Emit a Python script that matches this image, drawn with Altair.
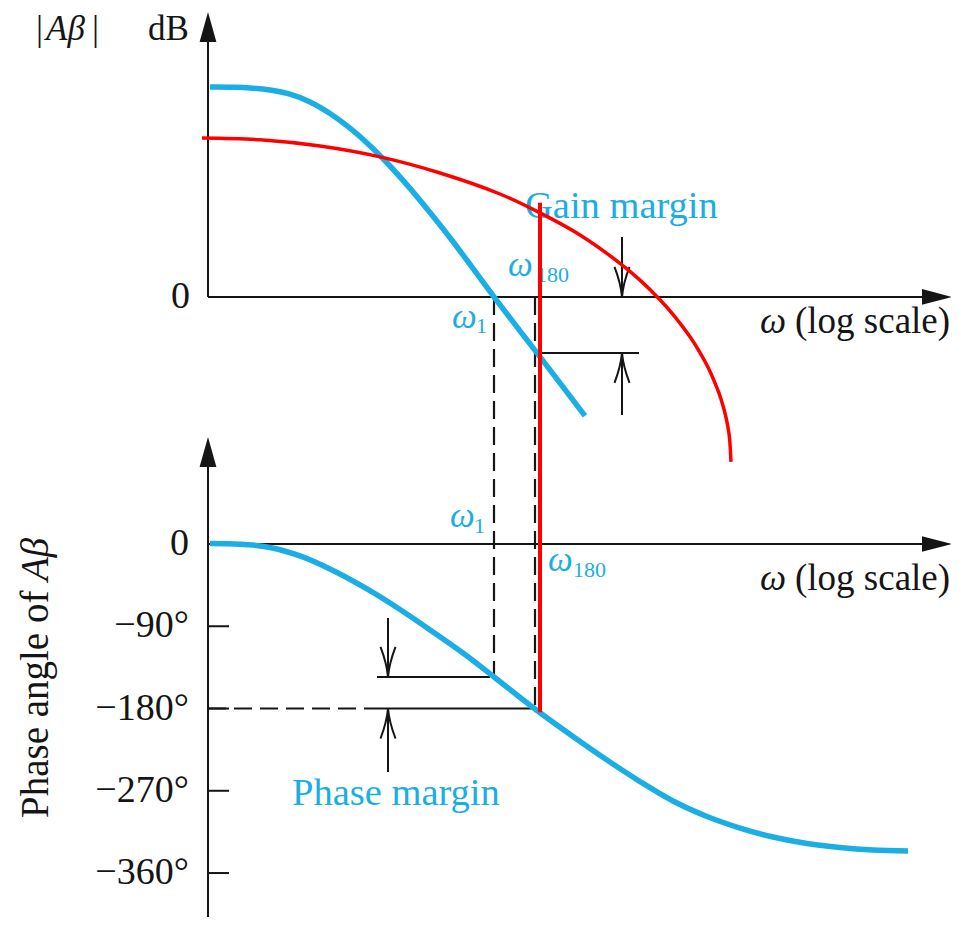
import altair as alt
import pandas as pd

BLUE = "#1aaee5"
RED = "#ff0000"
INK = "#151515"
FONT = "Liberation Serif"

# ---------------- data ----------------
# horizontal position: log10(omega), in decades measured from the vertical axes
# upper panel: |A beta| in dB ; lower panel: phase of A beta in degrees
mag_logw = [0.02, 0.22, 0.42, 0.62, 0.82, 1.02, 1.22, 1.42, 1.62, 1.82, 2.02, 2.22, 2.42, 2.62,
            2.86, 3.29, 3.77]
mag_db = [60.0, 59.9, 59.7, 59.1, 57.9, 55.7, 52.4, 48.2, 43.2, 37.4, 31.0, 24.1, 16.9, 9.3,
          0.0, -16.0, -34.0]

red_logw = [-0.06, 0.52, 1.12, 1.72, 2.32, 2.92, 3.32, 3.72, 4.12, 4.32, 4.52, 4.67, 4.82, 4.92,
            5.00, 5.06, 5.11, 5.15, 5.18, 5.20, 5.215, 5.23]
red_db = [45.4, 44.9, 43.1, 40.0, 35.4, 29.4, 24.0, 17.7, 9.6, 4.8, -0.8, -5.7, -11.4, -15.9,
          -20.1, -23.9, -27.5, -31.1, -34.4, -37.3, -40.2, -47.1]

phase_logw = [0.02, 0.32, 0.62, 0.92, 1.25, 1.59, 1.92, 2.25, 2.59, 2.86, 3.27, 3.65, 3.99,
              4.32, 4.65, 4.99, 5.32, 5.65, 5.99, 6.32, 6.65, 7.00]
phase_deg = [0.5, -0.2, -3.8, -13.1, -29.0, -49.2, -71.7, -96.3, -122.6, -145.5, -180.5, -210.6,
             -236.4, -259.9, -281.2, -298.2, -310.8, -320.6, -327.7, -332.1, -334.8, -335.9]

w_1 = 2.86            # omega_1  (|A beta| = 0 dB)
w_180 = 3.27          # omega_180 (phase = -180 deg)
gain_at_w180 = -16.0  # dB
phase_at_w1 = -145.5  # deg
red_w = 3.32
red_top_db = 26.9
red_bottom_deg = -184.0

tick_deg = [-90, -180, -270, -360]
tick_text = ["\u221290\u00b0", "\u2212180\u00b0", "\u2212270\u00b0", "\u2212360\u00b0"]

# segments: (w start, value start, unit, w end, value end, unit)
solid_segments = [
    (0.0, 0.0, "db", 0.0, 78.0, "db"),
    (0.0, 0.0, "db", 7.40, 0.0, "db"),
    (0.0, 112.0, "deg", 0.0, -408.0, "deg"),
    (0.0, 0.0, "deg", 7.40, 0.0, "deg"),
    (w_180, gain_at_w180, "db", 4.31, gain_at_w180, "db"),
    (4.14, 17.1, "db", 4.14, 0.0, "db"),
    (4.14, -33.7, "db", 4.14, gain_at_w180, "db"),
    (1.69, phase_at_w1, "deg", 2.82, phase_at_w1, "deg"),
    (1.69, -180.0, "deg", w_180, -180.0, "deg"),
    (1.80, -81.0, "deg", 1.80, phase_at_w1, "deg"),
    (1.80, -249.5, "deg", 1.80, -180.0, "deg"),
] + [(0.0, t, "deg", 0.21, t, "deg") for t in tick_deg]

dashed_segments = [
    (w_1, 0.0, "db", w_1, phase_at_w1, "deg"),
    (w_180, 0.0, "db", w_180, -180.0, "deg"),
    (0.0, -180.0, "deg", 1.69, -180.0, "deg"),
]

red_segments = [(red_w, red_top_db, "db", red_w, red_bottom_deg, "deg")]

arrow_up_tips = [(0.0, 81.4, "db"), (0.0, 117.0, "deg")]
arrow_right_tips = [(7.44, 0.0, "db"), (7.44, 0.0, "deg")]
open_down_tips = [(4.14, 0.0, "db"), (1.80, phase_at_w1, "deg")]
open_up_tips = [(4.14, gain_at_w180, "db"), (1.80, -180.0, "deg")]

# texts: (w, value, unit, text)
corner_texts = [
    (-1.72, 73.4, "db", "|"),
    (-1.16, 73.4, "db", "|"),
    (-0.60, 73.4, "db", "dB"),
]
corner_italic = [(-1.62, 73.4, "db", "A\u03b2")]
scale_texts = [
    (5.87, -10.3, "db", "(log scale)"),
    (5.87, -50.3, "deg", "(log scale)"),
]
scale_italic = [
    (5.52, -10.3, "db", "\u03c9"),
    (5.52, -50.3, "deg", "\u03c9"),
]
axis_labels = [(-0.18, 0.0, "db", "0"), (-0.19, 0.0, "deg", "0")] + [
    (-0.19, t, "deg", s) for t, s in zip(tick_deg, tick_text)
]
blue_texts = [
    (3.17, 22.6, "db", "Gain margin"),
    (0.84, -285.6, "deg", "Phase margin"),
]
blue_omegas = [
    (2.44, -8.9, "db", "\u03c9"),
    (3.00, 6.0, "db", "\u03c9"),
    (2.42, 18.6, "deg", "\u03c9"),
    (3.40, -29.5, "deg", "\u03c9"),
]
blue_subs = [
    (2.68, -10.3, "db", "1"),
    (3.28, 4.3, "db", "180"),
    (2.66, 12.0, "deg", "1"),
    (3.65, -36.1, "deg", "180"),
]
title_normal = [(-1.60, -299.8, "deg", "Phase angle of")]
title_italic = [(-1.60, -40.5, "deg", "A\u03b2")]

# ---------------- scales ----------------
W, H = 943, 909
X_DOMAIN = [-2.0, 7.43]
Y_DOMAIN = [-408.1, 586.4]      # shared vertical scale, in phase degrees
DB0, DB_K = 270.3, 3.83         # where 0 dB sits on it, and degree-units per dB

xs = alt.Scale(domain=X_DOMAIN, nice=False, zero=False)
ys = alt.Scale(domain=Y_DOMAIN, nice=False, zero=False)


def yexpr(v, u):
    return f"datum.{u} == 'db' ? {DB0} + datum.{v} * {DB_K} : datum.{v}"


def seg_chart(rows, **mark):
    df = pd.DataFrame(rows, columns=["w1", "v1", "u1", "w2", "v2", "u2"])
    return (
        alt.Chart(df)
        .transform_calculate(ya=yexpr("v1", "u1"), yb=yexpr("v2", "u2"))
        .mark_rule(**mark)
        .encode(
            x=alt.X("w1:Q", scale=xs, axis=None),
            x2="w2:Q",
            y=alt.Y("ya:Q", scale=ys, axis=None),
            y2="yb:Q",
        )
    )


def pt_chart(rows, **mark):
    df = pd.DataFrame(rows, columns=["w", "v", "u"])
    return (
        alt.Chart(df)
        .transform_calculate(yy=yexpr("v", "u"))
        .mark_point(**mark)
        .encode(x=alt.X("w:Q", scale=xs, axis=None), y=alt.Y("yy:Q", scale=ys, axis=None))
    )


def txt_chart(rows, **mark):
    df = pd.DataFrame(rows, columns=["w", "v", "u", "t"])
    return (
        alt.Chart(df)
        .transform_calculate(yy=yexpr("v", "u"))
        .mark_text(font=FONT, **mark)
        .encode(
            x=alt.X("w:Q", scale=xs, axis=None),
            y=alt.Y("yy:Q", scale=ys, axis=None),
            text="t:N",
        )
    )


def curve(ws, vs, unit, interp="monotone", **mark):
    df = pd.DataFrame({"w": ws, "v": vs, "u": unit})
    return (
        alt.Chart(df)
        .transform_calculate(yy=yexpr("v", "u"))
        .mark_line(interpolate=interp, **mark)
        .encode(x=alt.X("w:Q", scale=xs, axis=None), y=alt.Y("yy:Q", scale=ys, axis=None))
    )


UP = "M0,0 L-0.28,1 L0.28,1 Z"
RIGHT = "M0,0 L-1,-0.26 L-1,0.26 Z"
VDOWN = "M-0.25,-1 Q-0.04,-0.45 0,0 Q0.04,-0.45 0.25,-1"
VUP = "M-0.25,1 Q-0.04,0.45 0,0 Q0.04,0.45 0.25,1"

layers = [
    seg_chart(solid_segments, color=INK, strokeWidth=2),
    seg_chart(dashed_segments, color=INK, strokeWidth=2.2, strokeDash=[18, 8]),
    pt_chart(arrow_up_tips, shape=UP, size=3600, filled=True, color=INK, opacity=1, strokeWidth=0),
    pt_chart(arrow_right_tips, shape=RIGHT, size=3600, filled=True, color=INK, opacity=1, strokeWidth=0),
    pt_chart(open_down_tips, shape=VDOWN, size=3600, filled=False, color=INK, opacity=1, strokeWidth=2),
    pt_chart(open_up_tips, shape=VUP, size=3600, filled=False, color=INK, opacity=1, strokeWidth=2),
    txt_chart(corner_texts, fontSize=35, color=INK, align="left", baseline="alphabetic"),
    txt_chart(corner_italic, fontSize=35, fontStyle="italic", color=INK, align="left", baseline="alphabetic"),
    txt_chart(scale_texts, fontSize=37, color=INK, align="left", baseline="alphabetic"),
    txt_chart(scale_italic, fontSize=37, fontStyle="italic", color=INK, align="left", baseline="alphabetic"),
    txt_chart(axis_labels, fontSize=38, color=INK, align="right", baseline="middle"),
    txt_chart(title_normal, fontSize=39, color=INK, align="left", baseline="alphabetic", angle=270),
    txt_chart(title_italic, fontSize=39, fontStyle="italic", color=INK, align="left", baseline="alphabetic", angle=270),
    txt_chart(blue_texts, fontSize=38.5, color=BLUE, align="left", baseline="alphabetic"),
    txt_chart(blue_omegas, fontSize=35, fontStyle="italic", color=BLUE, align="left", baseline="alphabetic"),
    txt_chart(blue_subs, fontSize=22, color=BLUE, align="left", baseline="alphabetic"),
    curve(mag_logw, mag_db, "db", color=BLUE, strokeWidth=5.5),
    curve(phase_logw, phase_deg, "deg", color=BLUE, strokeWidth=5.5),
    curve(red_logw, red_db, "db", interp="catmull-rom", color=RED, strokeWidth=3.5),
    seg_chart(red_segments, color=RED, strokeWidth=4),
]

chart = (
    alt.layer(*layers)
    .properties(width=W, height=H, padding=0, autosize="none", background="white")
    .configure_view(stroke=None)
)

chart.save("out.html", embed_options={"renderer": "svg", "actions": False})
